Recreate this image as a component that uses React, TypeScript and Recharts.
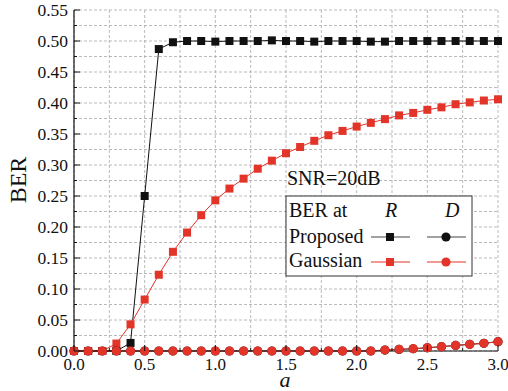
import React from 'react';
import { LineChart, Line, XAxis, YAxis, CartesianGrid } from 'recharts';

const aValues = [0, 0.1, 0.2, 0.3, 0.4, 0.5, 0.6, 0.7, 0.8, 0.9, 1.0, 1.1, 1.2, 1.3, 1.4, 1.5, 1.6, 1.7, 1.8, 1.9, 2.0, 2.1, 2.2, 2.3, 2.4, 2.5, 2.6, 2.7, 2.8, 2.9, 3.0];
const proposedR = [0, 0, 0, 0, 0.013, 0.25, 0.487, 0.498, 0.5, 0.5, 0.499, 0.5, 0.5, 0.5, 0.501, 0.5, 0.5, 0.499, 0.5, 0.5, 0.5, 0.499, 0.499, 0.5, 0.5, 0.5, 0.5, 0.5, 0.5, 0.5, 0.5];
const gaussianR = [0, 0, 0, 0.012, 0.043, 0.083, 0.123, 0.16, 0.191, 0.219, 0.243, 0.262, 0.278, 0.294, 0.307, 0.319, 0.329, 0.339, 0.348, 0.355, 0.362, 0.368, 0.374, 0.38, 0.384, 0.389, 0.393, 0.398, 0.401, 0.404, 0.406];
const proposedD = [0, 0, 0, 0, 0, 0, 0, 0, 0, 0, 0, 0, 0, 0, 0, 0, 0, 0, 0, 0, 0, 0, 0.0015, 0.0026, 0.0036, 0.0052, 0.007, 0.009, 0.0108, 0.0124, 0.015];
const gaussianD = [0, 0, 0, 0, 0, 0, 0, 0, 0, 0, 0, 0, 0, 0, 0, 0, 0, 0, 0, 0, 0, 0, 0.0016, 0.0027, 0.0037, 0.0053, 0.007, 0.009, 0.0108, 0.0124, 0.015];

const xTicks = [0, 0.25, 0.5, 0.75, 1.0, 1.25, 1.5, 1.75, 2.0, 2.25, 2.5, 2.75, 3.0];
const yTicks = [0, 0.025, 0.05, 0.075, 0.1, 0.125, 0.15, 0.175, 0.2, 0.225, 0.25, 0.275, 0.3, 0.325, 0.35, 0.375, 0.4, 0.425, 0.45, 0.475, 0.5, 0.525, 0.55];

const data = aValues.map((a, i) => ({
  a,
  proposedR: proposedR[i],
  gaussianR: gaussianR[i],
  proposedD: proposedD[i],
  gaussianD: gaussianD[i],
}));

const BLACK = '#111111';
const RED = '#e3342a';
const FONT = 'Liberation Serif';

const isMajor = (v: number, step: number) => Math.abs(v / step - Math.round(v / step)) < 1e-6;

const BottomTick = (props: any) => {
  const { x, y, payload } = props;
  const major = isMajor(payload.value, 0.5);
  return (
    <g>
      <line x1={x} y1={y} x2={x} y2={y - (major ? 6 : 3)} stroke={BLACK} strokeWidth={1} />
      {major && (
        <text x={x} y={y + 19} textAnchor="middle" fontSize={17} fontFamily={FONT} fill={BLACK}>
          {payload.value.toFixed(1)}
        </text>
      )}
    </g>
  );
};

const TopTick = (props: any) => {
  const { x, y, payload } = props;
  const major = isMajor(payload.value, 0.5);
  return <line x1={x} y1={y} x2={x} y2={y + (major ? 6 : 3)} stroke={BLACK} strokeWidth={1} />;
};

const LeftTick = (props: any) => {
  const { x, y, payload } = props;
  const major = isMajor(payload.value, 0.05);
  return (
    <g>
      <line x1={x} y1={y} x2={x + (major ? 6 : 3)} y2={y} stroke={BLACK} strokeWidth={1} />
      {major && (
        <text x={x - 6} y={y + 6} textAnchor="end" fontSize={17.5} fontFamily={FONT} fill={BLACK}>
          {payload.value.toFixed(2)}
        </text>
      )}
    </g>
  );
};

const RightTick = (props: any) => {
  const { x, y, payload } = props;
  const major = isMajor(payload.value, 0.05);
  return <line x1={x} y1={y} x2={x - (major ? 6 : 3)} y2={y} stroke={BLACK} strokeWidth={1} />;
};

const squareDot = (color: string) => (props: any) => {
  const { cx, cy, index } = props;
  if (cx == null || cy == null) return <g key={index} />;
  return <rect key={index} x={cx - 4} y={cy - 4} width={8} height={8} fill={color} />;
};

const circleDot = (color: string) => (props: any) => {
  const { cx, cy, index } = props;
  if (cx == null || cy == null) return <g key={index} />;
  return <circle key={index} cx={cx} cy={cy} r={4.6} fill={color} />;
};

const Overlay = () => (
  <svg width={508} height={391} style={{ position: 'absolute', left: 0, top: 0, pointerEvents: 'none' }}>
    <text x={0} y={0} transform="translate(26 180) rotate(-90)" textAnchor="middle" fontSize={24} fontFamily={FONT} fill={BLACK}>BER</text>
    <text x={285} y={387} textAnchor="middle" fontSize={22} fontStyle="italic" fontFamily={FONT} fill={BLACK}>a</text>
    <text x={287} y={185} fontSize={20} fontFamily={FONT} fill={BLACK}>SNR=20dB</text>
    <rect x={286} y={196} width={186} height={80} fill="#ffffff" stroke="#333" strokeWidth={1} />
    <text x={289} y={217} fontSize={20} fontFamily={FONT} fill={BLACK}>BER at</text>
    <text x={385} y={217} fontSize={20} fontStyle="italic" fontFamily={FONT} fill={BLACK}>R</text>
    <text x={445} y={217} fontSize={20} fontStyle="italic" fontFamily={FONT} fill={BLACK}>D</text>
    <text x={289} y={243} fontSize={20} fontFamily={FONT} fill={BLACK}>Proposed</text>
    <line x1={371} y1={237} x2={410} y2={237} stroke="#444" strokeWidth={1} />
    <rect x={386} y={233} width={8} height={8} fill={BLACK} />
    <line x1={427} y1={237} x2={466} y2={237} stroke="#444" strokeWidth={1} />
    <circle cx={446} cy={237} r={4.6} fill={BLACK} />
    <text x={289} y={267} fontSize={20} fontFamily={FONT} fill={BLACK}>Gaussian</text>
    <line x1={371} y1={262} x2={410} y2={262} stroke={RED} strokeWidth={1} />
    <rect x={386} y={258} width={8} height={8} fill={RED} />
    <line x1={427} y1={262} x2={466} y2={262} stroke={RED} strokeWidth={1} />
    <circle cx={446} cy={262} r={4.6} fill={RED} />
  </svg>
);

export default function App() {
  return (
    <div style={{ position: 'absolute', left: 0, top: 0, width: 508, height: 391, background: '#fff' }}>
      <LineChart width={508} height={391} data={data} margin={{ top: 10, right: 10, bottom: 0, left: 0 }}>
        <CartesianGrid stroke="#a8a8a8" strokeDasharray="3 2" strokeWidth={0.8} />
        <XAxis
          dataKey="a"
          type="number"
          domain={[0, 3]}
          ticks={xTicks}
          height={40}
          tickSize={0}
          tickMargin={0}
          tickLine={false}
          axisLine={{ stroke: BLACK, strokeWidth: 1.2 }}
          tick={BottomTick}
          interval={0}
        />
        <XAxis
          xAxisId="top"
          orientation="top"
          dataKey="a"
          type="number"
          domain={[0, 3]}
          ticks={xTicks}
          height={0}
          tickSize={0}
          tickMargin={0}
          tickLine={false}
          axisLine={{ stroke: BLACK, strokeWidth: 1.2 }}
          tick={TopTick}
          interval={0}
        />
        <YAxis
          type="number"
          domain={[0, 0.55]}
          ticks={yTicks}
          width={74}
          tickSize={0}
          tickMargin={0}
          tickLine={false}
          axisLine={{ stroke: BLACK, strokeWidth: 1.2 }}
          tick={LeftTick}
          interval={0}
        />
        <YAxis
          yAxisId="right"
          orientation="right"
          type="number"
          domain={[0, 0.55]}
          ticks={yTicks}
          width={0}
          tickSize={0}
          tickMargin={0}
          tickLine={false}
          axisLine={{ stroke: BLACK, strokeWidth: 1.2 }}
          tick={RightTick}
          interval={0}
        />
        <Line dataKey="proposedR" stroke={BLACK} strokeWidth={1} dot={squareDot(BLACK)} isAnimationActive={false} />
        <Line dataKey="gaussianR" stroke={RED} strokeWidth={1} dot={squareDot(RED)} isAnimationActive={false} />
        <Line dataKey="proposedD" stroke={BLACK} strokeWidth={1} dot={circleDot(BLACK)} isAnimationActive={false} />
        <Line dataKey="gaussianD" stroke={RED} strokeWidth={1} dot={circleDot(RED)} isAnimationActive={false} />
      </LineChart>
      <Overlay />
    </div>
  );
}
